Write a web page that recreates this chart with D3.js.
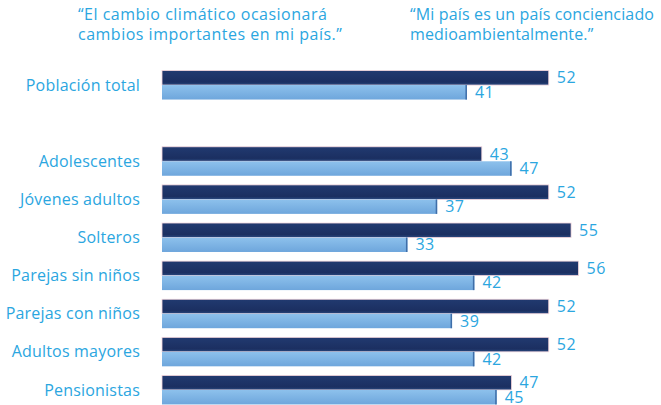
<!DOCTYPE html>
<html>
<head>
<meta charset="utf-8">
<script src="https://cdn.jsdelivr.net/npm/d3@7"></script>
<style>
  html, body { margin: 0; padding: 0; background: #ffffff; }
  svg { display: block; }
  text { font-family: "Open Sans", "Noto Sans", sans-serif; }
</style>
</head>
<body>
<svg id="chart" width="661" height="405"></svg>
<script>
// Segments (an empty slot separates the total from the breakdown)
const categories = ["Población total", "", "Adolescentes", "Jóvenes adultos", "Solteros",
  "Parejas sin niños", "Parejas con niños", "Adultos mayores", "Pensionistas"];
// "El cambio climático ocasionará cambios importantes en mi país."
const climateChange = [52, null, 43, 52, 55, 56, 52, 52, 47];
// "Mi país es un país concienciado medioambientalmente."
const ecoAware = [41, null, 47, 37, 33, 42, 39, 42, 45];
const headerLeft = ["“El cambio climático ocasionará", "cambios importantes en mi país.”"];
const headerRight = ["“Mi país es un país concienciado", "medioambientalmente.”"];

const svg = d3.select("#chart");
const textColor = "#2ba6df";

const defs = svg.append("defs");
const gDark = defs.append("linearGradient").attr("id", "gDark")
  .attr("x1", 0).attr("y1", 0).attr("x2", 0).attr("y2", 1);
gDark.append("stop").attr("offset", "0%").attr("stop-color", "#213a70");
gDark.append("stop").attr("offset", "80%").attr("stop-color", "#1b2f61");
gDark.append("stop").attr("offset", "100%").attr("stop-color", "#2a4a80");
const gLight = defs.append("linearGradient").attr("id", "gLight")
  .attr("x1", 0).attr("y1", 0).attr("x2", 0).attr("y2", 1);
gLight.append("stop").attr("offset", "0%").attr("stop-color", "#8dc1ec");
gLight.append("stop").attr("offset", "100%").attr("stop-color", "#6ea6dc");

const x = d3.scaleLinear().domain([0, 56]).range([162, 578.5]);
const y = d3.scaleBand().domain(d3.range(categories.length)).range([66, 409]).paddingInner(0.24).paddingOuter(0.12);
const bh = y.bandwidth() / 2;

// Headers
const hdr = svg.append("g").attr("fill", textColor).attr("font-size", 16);
headerLeft.forEach((t, i) => hdr.append("text").attr("x", 78).attr("y", 20 + i * 20)
  .attr("letter-spacing", 0.5).text(t));
headerRight.forEach((t, i) => hdr.append("text").attr("x", 410).attr("y", 20 + i * 20)
  .attr("letter-spacing", 0.15).text(t));

// Category labels
svg.append("g").selectAll("text")
  .data(categories.map((c, i) => ({ c, i })).filter(d => d.c))
  .join("text")
  .attr("x", 140)
  .attr("y", d => y(d.i) + y.bandwidth() / 2)
  .attr("dy", "0.35em")
  .attr("text-anchor", "end")
  .attr("fill", textColor)
  .attr("font-size", 16)
  .attr("letter-spacing", 0.2)
  .text(d => d.c);

const rows = categories.map((c, i) => ({ i, a: climateChange[i], b: ecoAware[i] })).filter(d => d.a != null);

// Bars
const bars = svg.append("g");
bars.selectAll("rect.dark").data(rows).join("rect").attr("class", "dark")
  .attr("x", x(0)).attr("y", d => y(d.i))
  .attr("width", d => x(d.a) - x(0)).attr("height", bh)
  .attr("fill", "url(#gDark)")
  .attr("stroke", "#f4d6dc").attr("stroke-width", 0.8);
bars.selectAll("rect.light").data(rows).join("rect").attr("class", "light")
  .attr("x", x(0)).attr("y", d => y(d.i) + bh)
  .attr("width", d => x(d.b) - x(0)).attr("height", bh)
  .attr("fill", "url(#gLight)");
// darker right edge on light bars
bars.selectAll("rect.edge").data(rows).join("rect").attr("class", "edge")
  .attr("x", d => x(d.b) - 1.5).attr("y", d => y(d.i) + bh)
  .attr("width", 1.5).attr("height", bh)
  .attr("fill", "#3f6ea8");

// Value labels
const vals = svg.append("g").attr("fill", textColor).attr("font-size", 16).attr("letter-spacing", 0.5);
vals.selectAll("text.a").data(rows).join("text").attr("class", "a")
  .attr("x", d => x(d.a) + 8).attr("y", d => y(d.i) + bh / 2).attr("dy", "0.35em")
  .text(d => d.a);
vals.selectAll("text.b").data(rows).join("text").attr("class", "b")
  .attr("x", d => x(d.b) + 8).attr("y", d => y(d.i) + bh * 1.5).attr("dy", "0.35em")
  .text(d => d.b);
</script>
</body>
</html>
